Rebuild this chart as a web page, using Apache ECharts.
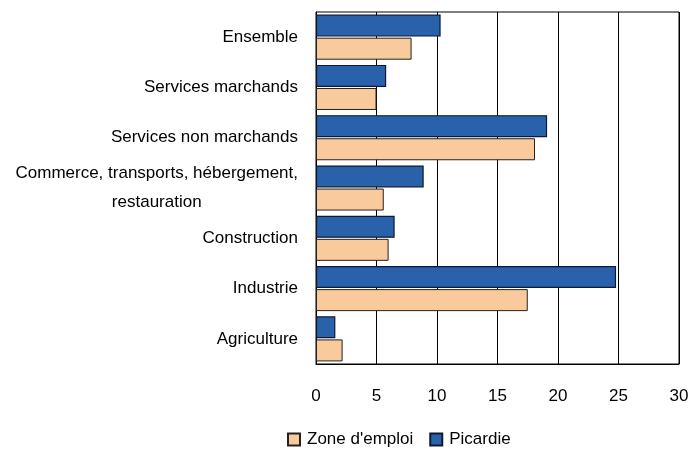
<!DOCTYPE html>
<html><head><meta charset="utf-8">
<script src="https://cdn.jsdelivr.net/npm/echarts@6/dist/echarts.min.js"></script>
<style>html,body{margin:0;padding:0;background:#fff}#c{width:689px;height:456px}</style>
</head><body><div id="c"></div>
<script>
const categories = ["Ensemble","Services marchands","Services non marchands","Commerce, transports, hébergement, restauration","Construction","Industrie","Agriculture"];
const zoneEmploi = [7.9, 5.0, 18.1, 5.6, 6.0, 17.5, 2.2];
const picardie = [10.3, 5.8, 19.1, 8.9, 6.5, 24.8, 1.6];
const seriesNames = ["Zone d'emploi", "Picardie"];
const xTicks = {min: 0, max: 30, interval: 5};

const FONT = "'Liberation Sans', Arial, sans-serif";
const FS = 17;
const chart = echarts.init(document.getElementById('c'), null, {renderer: 'canvas'});
chart.setOption({
  animation: false,
  textStyle: {fontFamily: FONT},
  grid: {left: 316, right: 10, top: 12, bottom: 92, show: true, borderColor: '#000', borderWidth: 1,
         containLabel: false, outerBoundsMode: 'none'},
  legend: {
    top: 426, left: 282, itemWidth: 12, itemHeight: 12, itemGap: 16,
    icon: 'rect',
    textStyle: {fontFamily: FONT, fontSize: FS, color: '#000', padding: [0,0,0,2]},
    data: seriesNames
  },
  xAxis: {
    type: 'value', min: xTicks.min, max: xTicks.max, interval: xTicks.interval,
    axisLine: {show: true, lineStyle: {color: '#000', width: 1}},
    axisTick: {show: false},
    splitLine: {show: true, lineStyle: {color: '#000', width: 1}},
    axisLabel: {margin: 24, color: '#000', fontSize: FS, fontFamily: FONT}
  },
  yAxis: {
    type: 'category', inverse: true, data: categories,
    axisLine: {show: true, lineStyle: {color: '#000', width: 1}},
    axisTick: {show: false},
    axisLabel: {
      margin: 18, color: '#000', fontSize: FS, fontFamily: FONT, align: 'right',
      formatter: function (v) {
        if (v.indexOf('restauration') >= 0) {
          return '{c|Commerce, transports, hébergement,}\n{c|restauration}';
        }
        return v;
      },
      rich: {c: {align: 'center', fontSize: FS, fontFamily: FONT, color: '#000', lineHeight: 29}}
    }
  },
  series: [
    {name: seriesNames[1], type: 'bar', data: picardie, barWidth: 22, barGap: '5%',
     itemStyle: {color: '#2962AB', borderColor: '#0d1a33', borderWidth: 1.2}},
    {name: seriesNames[0], type: 'bar', data: zoneEmploi, barWidth: 22, barGap: '5%',
     itemStyle: {color: '#F9CB9C', borderColor: '#222', borderWidth: 1}}
  ]
});
</script></body></html>
